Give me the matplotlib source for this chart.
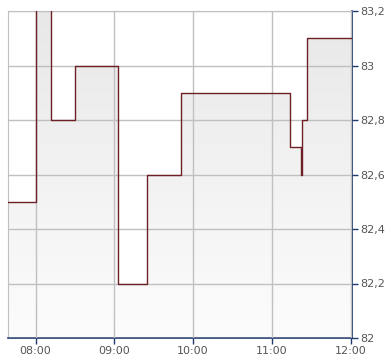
import numpy as np
import pandas as pd
import matplotlib
matplotlib.use('Agg')
import matplotlib.pyplot as plt
import matplotlib.dates as mdates
from matplotlib.ticker import FuncFormatter

# kursverlauf (treppenstufen)
zeiten = ['07:39:00', '08:00:00', '08:12:00', '08:30:00', '09:03:00', '09:25:00', '09:51:00',
          '11:14:00', '11:22:00', '11:22:40', '11:27:00', '12:01:00']
kurse = [82.5, 83.3, 82.8, 83.0, 82.2, 82.6, 82.9, 82.7, 82.6, 82.8, 83.1, 83.1]
y_ticks = [82.0, 82.2, 82.4, 82.6, 82.8, 83.0, 83.2]
x_ticks = ['08:00:00', '09:00:00', '10:00:00', '11:00:00', '12:00:00']

tag = '2024-01-02 '
t = mdates.date2num(pd.to_datetime([tag + z for z in zeiten]))
xt = mdates.date2num(pd.to_datetime([tag + z for z in x_ticks]))

fig = plt.figure(figsize=(3.9, 3.64), dpi=100)
ax = fig.add_axes([8 / 390, 1 - 338 / 364, 344 / 390, 327 / 364])

ymin, ymax = 82.0, 83.2
ax.set_xlim(t[0], t[-1])
ax.set_ylim(ymin, ymax)

# flaeche unter der linie mit verlauf
poly = ax.fill_between(t, kurse, ymin - 1, step='post', facecolor='none', edgecolor='none')
grad = np.linspace(0, 1, 256).reshape(-1, 1)
cmap = matplotlib.colors.LinearSegmentedColormap.from_list('g', ['#fcfcfc', '#e8e8e8'])
img = ax.imshow(grad, extent=[t[0], t[-1], ymin, ymax], origin='lower', aspect='auto',
                cmap=cmap, zorder=1)
img.set_clip_path(poly.get_paths()[0], transform=ax.transData)

ax.grid(True, color='#c0c0c0', linewidth=1, zorder=2)
ax.set_axisbelow(False)
ax.step(t, kurse, where='post', color='#6e1f25', linewidth=1.0, zorder=3)

ax.set_xticks(xt)
ax.xaxis.set_major_formatter(mdates.DateFormatter('%H:%M'))
ax.set_yticks(y_ticks)
ax.yaxis.set_major_formatter(FuncFormatter(lambda v, p: ('%g' % round(v, 1)).replace('.', ',')))
ax.yaxis.tick_right()

for s in ['top', 'left']:
    ax.spines[s].set_color('#c0c0c0')
for s in ['bottom', 'right']:
    ax.spines[s].set_color('#1f3a6e')
    ax.spines[s].set_linewidth(1.2)

ax.tick_params(axis='both', colors='#1f3a6e', length=4, width=1, labelsize=8,
               labelcolor='#555555', pad=2)

fig.savefig('out.png', dpi=100)
